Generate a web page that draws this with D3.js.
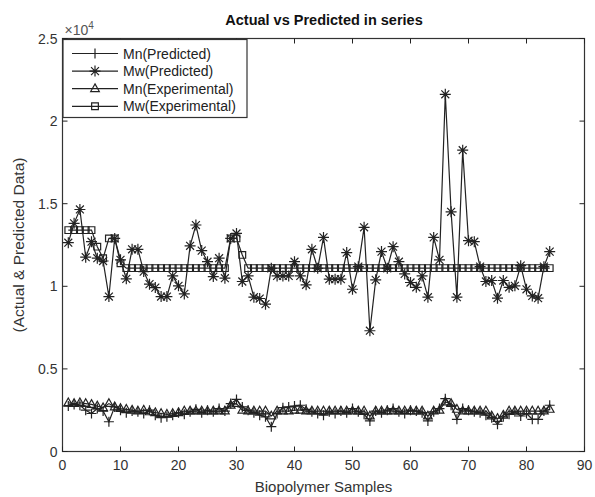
<!DOCTYPE html>
<html><head><meta charset="utf-8">
<script src="https://cdn.jsdelivr.net/npm/d3@7"></script>
<style>body{margin:0;background:#fff}svg{display:block}text{font-family:"Liberation Sans",Arial,sans-serif}</style>
</head><body><svg id="c" width="595" height="497"></svg>
<script>
const samples = d3.range(1, 85);
const mnPredicted = [2750,2850,2800,2500,2300,2600,2450,1800,2700,2500,2350,2450,2400,2300,2500,2200,2050,2100,2200,2350,2250,2400,2550,2350,2500,2400,2600,2450,2900,3150,2700,2500,2350,2200,2100,1500,2300,2650,2700,2750,2800,2550,2400,2300,2200,2400,2300,2450,2350,2600,2400,2250,1850,2450,2350,2500,2600,2400,2300,2500,2450,2350,1850,2400,2600,3200,2800,1950,2600,2500,2400,2350,2200,2050,1650,2100,2250,2400,2150,2300,1950,1950,2450,2800];
const mwPredicted = [12640,13810,14650,11760,12700,11700,11530,9380,12900,11600,10450,12240,12240,10890,10130,9920,9380,9380,10630,10030,9540,12450,13710,12160,11490,10590,11700,10490,12900,13200,10290,10630,9340,9260,8920,11090,10630,10630,10630,11490,10630,10090,12240,11090,12960,10430,10430,10430,12040,9820,11190,13570,7310,10390,12100,11090,12400,11490,10750,10230,9940,10630,9340,12960,11600,21620,14510,9340,18240,12760,12700,11190,10290,10350,9280,10350,9940,10030,11250,9820,9420,9280,11190,12100];
const mnExperimental = [2950,2900,2950,2900,2850,2750,2650,2900,2700,2600,2550,2500,2450,2500,2400,2350,2300,2250,2300,2350,2450,2450,2450,2450,2450,2450,2450,2450,2800,2900,2500,2450,2450,2450,2450,2150,2450,2450,2450,2500,2500,2450,2450,2450,2450,2450,2450,2450,2450,2450,2450,2450,2150,2450,2450,2450,2450,2450,2450,2450,2450,2450,2150,2450,2500,3000,2900,2550,2450,2450,2450,2450,2450,2150,2000,2200,2450,2450,2450,2450,2450,2450,2450,2550];
const mwExperimental = [13400,13400,13400,13400,13400,12400,11700,12900,12900,11400,11100,11100,11100,11100,11100,11100,11100,11100,11100,11100,11100,11100,11100,11100,11100,11100,11100,11100,12900,12900,11900,11100,11100,11100,11100,11100,11100,11100,11100,11100,11100,11100,11100,11100,11100,11100,11100,11100,11100,11100,11100,11100,11100,11100,11100,11100,11100,11100,11100,11100,11100,11100,11100,11100,11100,11100,11100,11100,11100,11100,11100,11100,11100,11100,11100,11100,11100,11100,11100,11100,11100,11100,11100,11100];
const seriesNames = ["Mn(Predicted)","Mw(Predicted)","Mn(Experimental)","Mw(Experimental)"];
const markers = ["plus","star","triangle","square"];
const xTicks = [0,10,20,30,40,50,60,70,80,90];
const yTicks = [0,5000,10000,15000,20000,25000];
const yTickLabels = ["0","0.5","1","1.5","2","2.5"];
const title = "Actual vs Predicted in series";
const xLabel = "Biopolymer Samples";
const yLabel = "(Actual & Predicted Data)";

const svg = d3.select("#c");
const L=62.5, R=584.5, T=38.5, B=451.5;
const x = d3.scaleLinear().domain([0,90]).range([L,R]);
const y = d3.scaleLinear().domain([0,25000]).range([B,T]);
const ink = "#222";

function markerPath(type, s){
  const p = d3.path();
  if(type==="plus"){ p.moveTo(-s,0);p.lineTo(s,0);p.moveTo(0,-s);p.lineTo(0,s); }
  else if(type==="star"){ p.moveTo(-s,0);p.lineTo(s,0);p.moveTo(0,-s);p.lineTo(0,s);
    const d=s*0.72; p.moveTo(-d,-d);p.lineTo(d,d);p.moveTo(-d,d);p.lineTo(d,-d); }
  else if(type==="triangle"){ p.moveTo(0,-s);p.lineTo(s*0.9,s*0.6);p.lineTo(-s*0.9,s*0.6);p.closePath(); }
  else { p.rect(-s*0.8,-s*0.8,s*1.6,s*1.6); }
  return p.toString();
}
const sizes = {plus:5, star:5.5, triangle:4.8, square:4.2};

svg.append("rect").attr("x",L).attr("y",T).attr("width",R-L).attr("height",B-T)
  .attr("fill","none").attr("stroke","#333").attr("stroke-width",1.2);

const gx = svg.append("g");
xTicks.forEach(t=>{
  gx.append("line").attr("x1",x(t)).attr("x2",x(t)).attr("y1",B).attr("y2",B-5).attr("stroke",ink);
  gx.append("line").attr("x1",x(t)).attr("x2",x(t)).attr("y1",T).attr("y2",T+5).attr("stroke",ink);
  gx.append("text").attr("x",x(t)).attr("y",B+18).attr("text-anchor","middle")
    .attr("font-size",14).attr("fill","#333").text(t);
});
const gy = svg.append("g");
yTicks.forEach((t,i)=>{
  gy.append("line").attr("x1",L).attr("x2",L+5).attr("y1",y(t)).attr("y2",y(t)).attr("stroke",ink);
  gy.append("line").attr("x1",R).attr("x2",R-5).attr("y1",y(t)).attr("y2",y(t)).attr("stroke",ink);
  gy.append("text").attr("x",L-5).attr("y",y(t)+5).attr("text-anchor","end")
    .attr("font-size",14).attr("fill","#333").text(yTickLabels[i]);
});
const ex = svg.append("text").attr("x",L+2).attr("y",T-4).attr("font-size",14).attr("fill","#555");
ex.append("tspan").text("\u00d710");
ex.append("tspan").attr("dy",-6).attr("font-size",10).text("4");

svg.append("text").attr("x",324).attr("y",25).attr("text-anchor","middle")
  .attr("font-size",14.5).attr("font-weight","bold").attr("fill","#111").text(title);
svg.append("text").attr("x",(L+R)/2).attr("y",492).attr("text-anchor","middle")
  .attr("font-size",15).attr("fill","#333").text(xLabel);
svg.append("text").attr("transform",`translate(24,${(T+B)/2}) rotate(-90)`).attr("text-anchor","middle")
  .attr("font-size",15.5).attr("fill","#333").text(yLabel);

const allSeries = [mnPredicted, mwPredicted, mnExperimental, mwExperimental];
const line = d3.line().x((d,i)=>x(samples[i])).y(d=>y(d));
allSeries.forEach((vals,k)=>{
  const g = svg.append("g");
  g.append("path").attr("d",line(vals)).attr("fill","none").attr("stroke",ink).attr("stroke-width",1.2);
  g.selectAll("path.m").data(vals).join("path").attr("class","m")
    .attr("transform",(d,i)=>`translate(${x(samples[i])},${y(d)})`)
    .attr("d",markerPath(markers[k],sizes[markers[k]]))
    .attr("fill","none").attr("stroke",ink).attr("stroke-width",1.2);
});

const lg = svg.append("g");
lg.append("rect").attr("x",L+0.5).attr("y",T+1).attr("width",184).attr("height",78)
  .attr("fill","#fff").attr("stroke","#333").attr("stroke-width",1.2);
seriesNames.forEach((n,i)=>{
  const yy = 53.5 + i*17.6;
  lg.append("line").attr("x1",72).attr("x2",118).attr("y1",yy).attr("y2",yy).attr("stroke",ink).attr("stroke-width",1.2);
  lg.append("path").attr("transform",`translate(95,${yy})`).attr("d",markerPath(markers[i],sizes[markers[i]]))
    .attr("fill","none").attr("stroke",ink).attr("stroke-width",1.2);
  lg.append("text").attr("x",123).attr("y",yy+5).attr("font-size",14).attr("fill","#222").text(n);
});
</script></body></html>
